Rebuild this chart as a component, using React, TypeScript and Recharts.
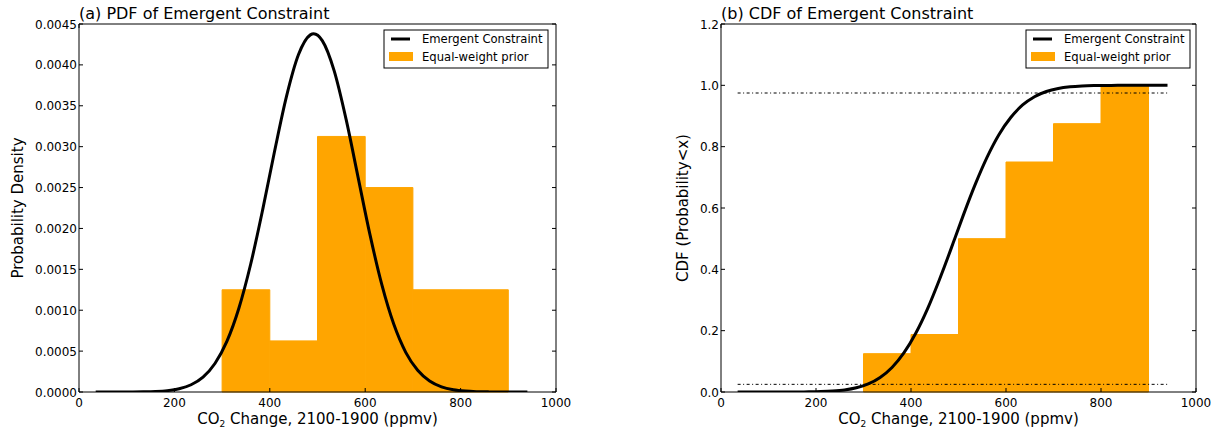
import React from "react";
import {
  ComposedChart,
  Line,
  XAxis,
  YAxis,
  ReferenceArea,
  ReferenceLine,
} from "recharts";

// curve sample points (ppmv) and values
const curveX = [
  35, 60, 85, 110, 135, 160, 185, 210, 235, 260, 285, 310, 335, 360, 385, 410,
  435, 460, 485, 492, 510, 535, 560, 585, 610, 635, 660, 685, 710, 735, 760,
  785, 810, 835, 860, 885, 910, 940,
];
const pdfValues = [
  0, 0.00000007, 0.00000025, 0.0000008, 0.0000024, 0.0000065, 0.0000167,
  0.00004, 0.0000885, 0.000182, 0.000349, 0.000619, 0.001021, 0.001565,
  0.002227, 0.002944, 0.003615, 0.004123, 0.004367, 0.00438, 0.004297,
  0.003927, 0.003333, 0.002628, 0.001924, 0.001309, 0.000827, 0.000485,
  0.000265, 0.000134, 0.0000629, 0.0000275, 0.0000111, 0.0000042, 0.0000015,
  0.0000005, 0.0000001, 0,
];
const cdfValues = [
  0, 0, 0.00001, 0.00002, 0.00007, 0.0002, 0.0005, 0.00135, 0.0032, 0.0068,
  0.0139, 0.0264, 0.0475, 0.0801, 0.1275, 0.1916, 0.272, 0.367, 0.47, 0.5,
  0.576, 0.676, 0.765, 0.839, 0.895, 0.936, 0.963, 0.98, 0.9898, 0.9951,
  0.9978, 0.9991, 0.9996, 0.9999, 1, 1, 1, 1,
];

// equal-weight prior histogram
const binEdges = [300, 400, 500, 600, 700, 800, 900];
const pdfBins = [0.00125, 0.000625, 0.003125, 0.0025, 0.00125, 0.00125];
const cdfBins = [0.125, 0.1875, 0.5, 0.75, 0.875, 1.0];

// 2.5% / 97.5% guide lines on the CDF panel
const cdfBounds = [0.025, 0.975];
const boundRange = [35, 940];

const xTicks = [0, 200, 400, 600, 800, 1000];
const pdfTicks = [
  0, 0.0005, 0.001, 0.0015, 0.002, 0.0025, 0.003, 0.0035, 0.004, 0.0045,
];
const cdfTicks = [0, 0.2, 0.4, 0.6, 0.8, 1.0, 1.2];

const FONT = "DejaVu Sans";
const ORANGE = "#FFA500";

const BottomTick = (props: any) => {
  const { x, y, payload } = props;
  return (
    <g>
      <line x1={x} x2={x} y1={y} y2={y - 4} stroke="#000" />
      <text x={x} y={y + 15} textAnchor="middle" fontSize={12} fontFamily={FONT} fill="#000">
        {payload.value}
      </text>
    </g>
  );
};

const TopTick = (props: any) => {
  const { x, y } = props;
  return <line x1={x} x2={x} y1={y} y2={y + 4} stroke="#000" />;
};

const LeftTick = (props: any) => {
  const { x, y, payload, digits } = props;
  return (
    <g>
      <line x1={x} x2={x + 4} y1={y} y2={y} stroke="#000" />
      <text x={x - 2} y={y + 4.5} textAnchor="end" fontSize={12} fontFamily={FONT} fill="#000">
        {payload.value.toFixed(digits)}
      </text>
    </g>
  );
};

const RightTick = (props: any) => {
  const { x, y } = props;
  return <line x1={x} x2={x - 4} y1={y} y2={y} stroke="#000" />;
};

interface PanelProps {
  left: number;
  width: number;
  margin: { top: number; right: number; bottom: number; left: number };
  values: number[];
  bins: number[];
  yMax: number;
  yTicks: number[];
  digits: number;
  bounds?: number[];
}

function Panel({ left, width, margin, values, bins, yMax, yTicks, digits, bounds }: PanelProps) {
  const data = curveX.map((x, i) => ({ x, v: values[i] }));
  return (
    <div style={{ position: "absolute", left, top: 0 }}>
      <ComposedChart width={width} height={431} data={data} margin={margin}>
        <XAxis
          xAxisId="b"
          dataKey="x"
          type="number"
          domain={[0, 1000]}
          ticks={xTicks}
          interval={0}
          height={30}
          tickSize={0}
          tickMargin={0}
          tickLine={false}
          axisLine={{ stroke: "#000" }}
          tick={<BottomTick />}
          allowDataOverflow
        />
        <XAxis
          xAxisId="t"
          orientation="top"
          type="number"
          domain={[0, 1000]}
          ticks={xTicks}
          interval={0}
          height={10}
          tickSize={0}
          tickMargin={0}
          tickLine={false}
          axisLine={{ stroke: "#000" }}
          tick={<TopTick />}
          allowDataOverflow
        />
        <YAxis
          yAxisId="l"
          type="number"
          domain={[0, yMax]}
          ticks={yTicks}
          interval={0}
          width={60}
          tickSize={0}
          tickMargin={0}
          tickLine={false}
          axisLine={{ stroke: "#000" }}
          tick={<LeftTick digits={digits} />}
          allowDataOverflow
        />
        <YAxis
          yAxisId="r"
          orientation="right"
          type="number"
          domain={[0, yMax]}
          ticks={yTicks}
          interval={0}
          width={10}
          tickSize={0}
          tickMargin={0}
          tickLine={false}
          axisLine={{ stroke: "#000" }}
          tick={<RightTick />}
          allowDataOverflow
        />
        {bins.map((b, i) => (
          <ReferenceArea
            key={i}
            xAxisId="b"
            yAxisId="l"
            x1={binEdges[i]}
            x2={binEdges[i + 1]}
            y1={0}
            y2={b}
            fill={ORANGE}
            fillOpacity={1}
            stroke={ORANGE}
            strokeWidth={1}
            ifOverflow="visible"
          />
        ))}
        {bounds &&
          bounds.map((b) => (
            <ReferenceLine
              key={b}
              xAxisId="b"
              yAxisId="l"
              segment={[
                { x: boundRange[0], y: b },
                { x: boundRange[1], y: b },
              ]}
              stroke="#000"
              strokeWidth={1}
              strokeDasharray="3 2.5 1 2.5"
            />
          ))}
        <Line
          xAxisId="b"
          yAxisId="l"
          type="monotone"
          dataKey="v"
          stroke="#000"
          strokeWidth={3}
          dot={false}
          activeDot={false}
          isAnimationActive={false}
        />
      </ComposedChart>
    </div>
  );
}

const Legend = ({ x }: { x: number }) => (
  <g fontFamily={FONT} fontSize={11.6} fill="#000">
    <rect x={x} y={30} width={164} height={38} fill="#fff" stroke="#000" strokeWidth={1} />
    <line x1={x + 7} x2={x + 26} y1={39} y2={39} stroke="#000" strokeWidth={3} />
    <rect x={x + 5} y={52} width={24} height={9} fill={ORANGE} />
    <text x={x + 38} y={43}>Emergent Constraint</text>
    <text x={x + 38} y={61}>Equal-weight prior</text>
  </g>
);

const XLabel = ({ cx }: { cx: number }) => (
  <text x={cx} y={424} textAnchor="middle" fontFamily={FONT} fontSize={15} fill="#000">
    CO
    <tspan dy={3} fontSize={9}>2</tspan>
    <tspan dy={-3}> Change, 2100-1900 (ppmv)</tspan>
  </text>
);

export default function App() {
  return (
    <div style={{ position: "absolute", left: 0, top: 0, width: 1221, height: 431, background: "#fff" }}>
      <Panel
        left={0}
        width={610}
        margin={{ top: 14, right: 44, bottom: 9, left: 19 }}
        values={pdfValues}
        bins={pdfBins}
        yMax={0.0045}
        yTicks={pdfTicks}
        digits={4}
      />
      <Panel
        left={610}
        width={611}
        margin={{ top: 14, right: 15, bottom: 9, left: 51 }}
        values={cdfValues}
        bins={cdfBins}
        yMax={1.2}
        yTicks={cdfTicks}
        digits={1}
        bounds={cdfBounds}
      />
      <svg
        width={1221}
        height={431}
        style={{ position: "absolute", left: 0, top: 0, pointerEvents: "none" }}
      >
        <text x={79} y={19} fontFamily={FONT} fontSize={16} fill="#000">
          (a) PDF of Emergent Constraint
        </text>
        <text x={721} y={19} fontFamily={FONT} fontSize={16} fill="#000">
          (b) CDF of Emergent Constraint
        </text>
        <text
          transform="translate(23,208) rotate(-90)"
          textAnchor="middle"
          fontFamily={FONT}
          fontSize={15}
          fill="#000"
        >
          Probability Density
        </text>
        <text
          transform="translate(688,208) rotate(-90)"
          textAnchor="middle"
          fontFamily={FONT}
          fontSize={15}
          fill="#000"
        >
          CDF (Probability&lt;x)
        </text>
        <XLabel cx={317.5} />
        <XLabel cx={958.5} />
        <Legend x={384} />
        <Legend x={1026} />
      </svg>
    </div>
  );
}
